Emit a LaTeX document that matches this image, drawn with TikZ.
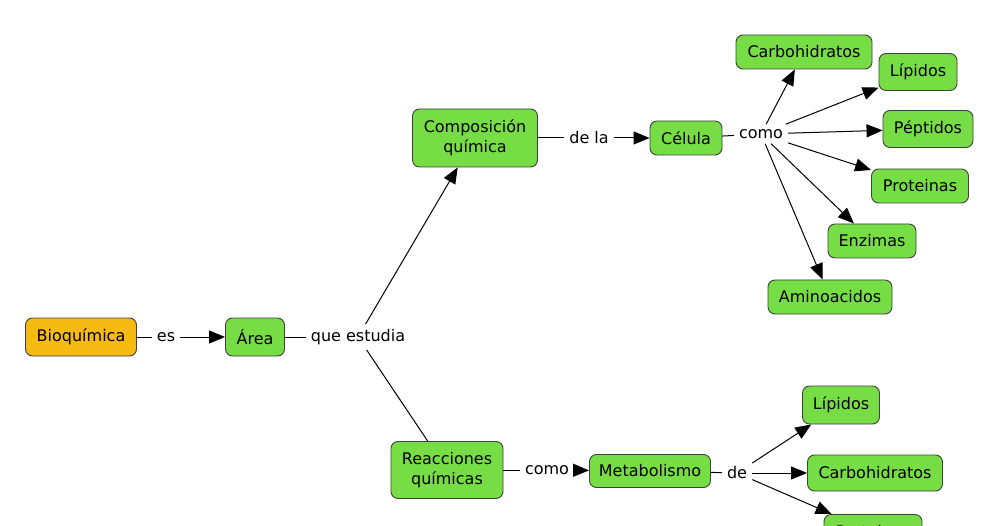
\documentclass[tikz,border=0pt]{standalone}
\usepackage{fontspec}
\setmainfont{DejaVu Sans}
\usetikzlibrary{arrows.meta}
\definecolor{gr}{RGB}{118,221,68}
\definecolor{og}{RGB}{246,186,18}
\begin{document}
\begin{tikzpicture}[x=1pt,y=-1pt,
 box/.style={draw=black!75,line width=0.9pt,rounded corners=7pt,fill=gr,inner sep=0pt,minimum height=34pt,align=center,font=\fontsize{16}{20}\selectfont},
 lab/.style={inner sep=5pt,fill=white,font=\fontsize{16}{19}\selectfont},
 ln/.style={line width=1pt},
 ar/.style={line width=1pt,-{Triangle[length=16pt,width=13pt]}}]
\useasboundingbox (0,0) rectangle (1000,526);
\clip (0,0) rectangle (1000,526);
\node[box,fill=og,minimum width=111pt,minimum height=38pt] (bio) at (81,337) {Bioquímica};
\node[box,minimum width=59pt,minimum height=38pt] (area) at (255,337) {Área};
\node[lab] (es) at (166,337) {es};
\node[lab] (que) at (358,337) {que estudia};
\node[box,minimum width=125pt,minimum height=58pt] (comp) at (475,138) {Composición\\química};
\node[lab] (dela) at (589,138) {de la};
\node[box,minimum width=72pt] (cel) at (686,138) {Célula};
\node[lab] (como1) at (761,134) {como};
\node[box,minimum width=136pt] (c1) at (804,52) {Carbohidratos};
\node[box,minimum width=78pt,minimum height=37pt] (c2) at (918,72) {Lípidos};
\node[box,minimum width=90pt,minimum height=37pt] (c3) at (928,129) {Péptidos};
\node[box,minimum width=97pt] (c4) at (920,186) {Proteinas};
\node[box,minimum width=88pt] (c5) at (872,241) {Enzimas};
\node[box,minimum width=124pt] (c6) at (830,297) {Aminoacidos};
\node[box,minimum width=112pt,minimum height=57pt] (reac) at (447,470) {Reacciones\\químicas};
\node[lab] (como2) at (547,470) {como};
\node[box,minimum width=121pt,minimum height=33pt] (met) at (650,471) {Metabolismo};
\node[lab] (de) at (737,473) {de};
\node[box,minimum width=77pt,minimum height=38pt] (d1) at (841,405) {Lípidos};
\node[box,minimum width=135pt,minimum height=36pt] (d2) at (875,473) {Carbohidratos};
\node[box,minimum width=98pt,minimum height=35pt] (d3) at (873,532) {Proteinas};
\draw[ln] (bio) -- (es); \draw[ar] (es) -- (area);
\draw[ln] (area) -- (que);
\draw[ar] (que) -- (comp);
\draw[ln] (que) -- (reac);
\draw[ln] (comp) -- (dela); \draw[ar] (dela) -- (cel);
\draw[ln] (cel) -- (como1);
\foreach \n in {c1,c2,c3,c4,c5,c6} \draw[ar] (como1) -- (\n);
\draw[ln] (reac) -- (como2); \draw[ar] (como2) -- (met);
\draw[ln] (met) -- (de);
\draw[ar] (de) -- (d1); \draw[ar] (de) -- (d2); \draw[ar] (de) -- (d3);
\end{tikzpicture}
\end{document}
